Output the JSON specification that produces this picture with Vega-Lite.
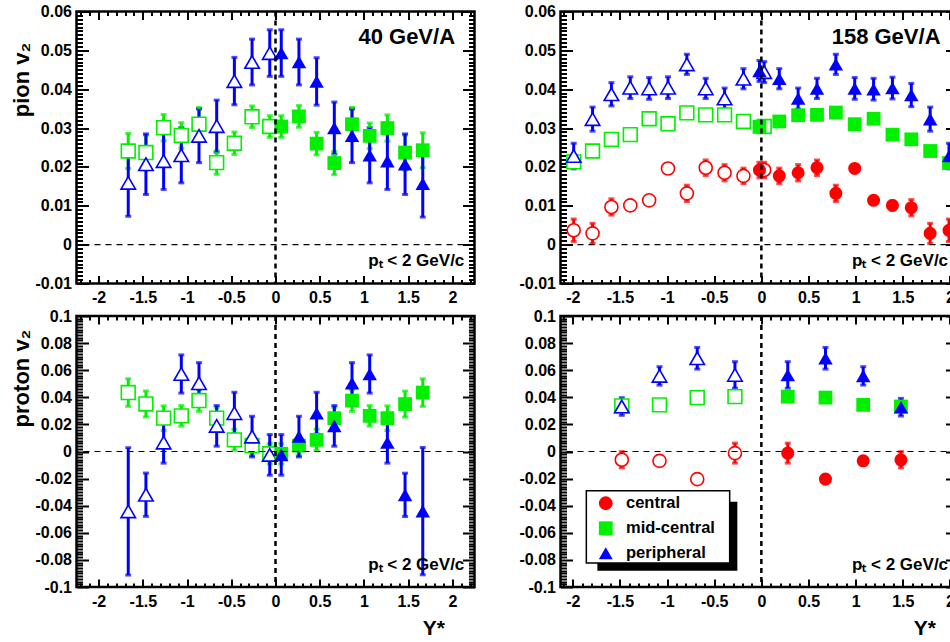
{
"$schema": "https://vega.github.io/schema/vega-lite/v6.json",
"background": "white",
"padding": {"left": 8.5, "top": 1.5, "right": 0, "bottom": 0},
"config": {
  "view": {"stroke": "black", "strokeWidth": 2.5},
  "font": "Liberation Sans",
  "axis": {"grid": false, "domain": false, "tickColor": "black", "tickWidth": 2, "labelFont": "Liberation Sans", "labelFontWeight": "bold", "labelFontSize": 16, "labelColor": "black", "titleFont": "Liberation Sans", "titleFontWeight": "bold", "titleColor": "black", "labelOverlap": false, "labelFlush": false, "labelBound": false}
},
"datasets": {
"pi40": [
{"x":-1.665,"v":0.0241,"e":0.0045,"c":"mid-central","s":"reflected"},
{"x":-1.465,"v":0.0237,"e":0.0045,"c":"mid-central","s":"reflected"},
{"x":-1.265,"v":0.0301,"e":0.0034,"c":"mid-central","s":"reflected"},
{"x":-1.065,"v":0.0281,"e":0.0033,"c":"mid-central","s":"reflected"},
{"x":-0.865,"v":0.0310,"e":0.0043,"c":"mid-central","s":"reflected"},
{"x":-0.665,"v":0.0211,"e":0.0030,"c":"mid-central","s":"reflected"},
{"x":-0.465,"v":0.0261,"e":0.0029,"c":"mid-central","s":"reflected"},
{"x":-0.265,"v":0.0329,"e":0.0028,"c":"mid-central","s":"reflected"},
{"x":-0.065,"v":0.0304,"e":0.0028,"c":"mid-central","s":"reflected"},
{"x":0.065,"v":0.0304,"e":0.0028,"c":"mid-central","s":"measured"},
{"x":0.265,"v":0.0330,"e":0.0028,"c":"mid-central","s":"measured"},
{"x":0.465,"v":0.0260,"e":0.0029,"c":"mid-central","s":"measured"},
{"x":0.665,"v":0.0210,"e":0.0030,"c":"mid-central","s":"measured"},
{"x":0.865,"v":0.0310,"e":0.0043,"c":"mid-central","s":"measured"},
{"x":1.065,"v":0.0280,"e":0.0033,"c":"mid-central","s":"measured"},
{"x":1.265,"v":0.0300,"e":0.0034,"c":"mid-central","s":"measured"},
{"x":1.465,"v":0.0237,"e":0.0045,"c":"mid-central","s":"measured"},
{"x":1.665,"v":0.0243,"e":0.0045,"c":"mid-central","s":"measured"},
{"x":-1.665,"v":0.0159,"e":0.0086,"c":"peripheral","s":"reflected"},
{"x":-1.465,"v":0.0207,"e":0.0078,"c":"peripheral","s":"reflected"},
{"x":-1.265,"v":0.0215,"e":0.0073,"c":"peripheral","s":"reflected"},
{"x":-1.065,"v":0.0230,"e":0.0071,"c":"peripheral","s":"reflected"},
{"x":-0.865,"v":0.0280,"e":0.0069,"c":"peripheral","s":"reflected"},
{"x":-0.665,"v":0.0305,"e":0.0067,"c":"peripheral","s":"reflected"},
{"x":-0.465,"v":0.0421,"e":0.0061,"c":"peripheral","s":"reflected"},
{"x":-0.265,"v":0.0470,"e":0.0059,"c":"peripheral","s":"reflected"},
{"x":-0.065,"v":0.0493,"e":0.0060,"c":"peripheral","s":"reflected"},
{"x":0.065,"v":0.0493,"e":0.0060,"c":"peripheral","s":"measured"},
{"x":0.265,"v":0.0470,"e":0.0059,"c":"peripheral","s":"measured"},
{"x":0.465,"v":0.0420,"e":0.0061,"c":"peripheral","s":"measured"},
{"x":0.665,"v":0.0300,"e":0.0067,"c":"peripheral","s":"measured"},
{"x":0.865,"v":0.0280,"e":0.0069,"c":"peripheral","s":"measured"},
{"x":1.065,"v":0.0230,"e":0.0071,"c":"peripheral","s":"measured"},
{"x":1.265,"v":0.0215,"e":0.0073,"c":"peripheral","s":"measured"},
{"x":1.465,"v":0.0207,"e":0.0078,"c":"peripheral","s":"measured"},
{"x":1.665,"v":0.0157,"e":0.0086,"c":"peripheral","s":"measured"}
],
"pi158": [
{"x":-1.99,"v":0.0037,"e":0.0029,"c":"central","s":"reflected"},
{"x":-1.79,"v":0.0029,"e":0.0026,"c":"central","s":"reflected"},
{"x":-1.59,"v":0.0097,"e":0.0021,"c":"central","s":"reflected"},
{"x":-1.39,"v":0.0101,"e":0.0012,"c":"central","s":"reflected"},
{"x":-1.19,"v":0.0114,"e":0.0010,"c":"central","s":"reflected"},
{"x":-0.99,"v":0.0196,"e":0.0010,"c":"central","s":"reflected"},
{"x":-0.79,"v":0.0132,"e":0.0021,"c":"central","s":"reflected"},
{"x":-0.59,"v":0.0198,"e":0.0020,"c":"central","s":"reflected"},
{"x":-0.39,"v":0.0185,"e":0.0021,"c":"central","s":"reflected"},
{"x":-0.19,"v":0.0177,"e":0.0020,"c":"central","s":"reflected"},
{"x":0.03,"v":0.0192,"e":0.0020,"c":"central","s":"reflected"},
{"x":-0.02,"v":0.0192,"e":0.0020,"c":"central","s":"measured"},
{"x":0.19,"v":0.0177,"e":0.0020,"c":"central","s":"measured"},
{"x":0.39,"v":0.0185,"e":0.0021,"c":"central","s":"measured"},
{"x":0.59,"v":0.0198,"e":0.0020,"c":"central","s":"measured"},
{"x":0.79,"v":0.0132,"e":0.0021,"c":"central","s":"measured"},
{"x":0.99,"v":0.0196,"e":0.0010,"c":"central","s":"measured"},
{"x":1.19,"v":0.0114,"e":0.0010,"c":"central","s":"measured"},
{"x":1.39,"v":0.0101,"e":0.0012,"c":"central","s":"measured"},
{"x":1.59,"v":0.0095,"e":0.0021,"c":"central","s":"measured"},
{"x":1.79,"v":0.0029,"e":0.0026,"c":"central","s":"measured"},
{"x":1.99,"v":0.0037,"e":0.0029,"c":"central","s":"measured"},
{"x":-1.99,"v":0.0213,"e":0.0010,"c":"mid-central","s":"reflected"},
{"x":-1.79,"v":0.0241,"e":0.0010,"c":"mid-central","s":"reflected"},
{"x":-1.59,"v":0.0271,"e":0.0010,"c":"mid-central","s":"reflected"},
{"x":-1.39,"v":0.0283,"e":0.0010,"c":"mid-central","s":"reflected"},
{"x":-1.19,"v":0.0324,"e":0.0010,"c":"mid-central","s":"reflected"},
{"x":-0.99,"v":0.0311,"e":0.0010,"c":"mid-central","s":"reflected"},
{"x":-0.79,"v":0.0339,"e":0.0010,"c":"mid-central","s":"reflected"},
{"x":-0.59,"v":0.0334,"e":0.0010,"c":"mid-central","s":"reflected"},
{"x":-0.39,"v":0.0334,"e":0.0010,"c":"mid-central","s":"reflected"},
{"x":-0.19,"v":0.0317,"e":0.0010,"c":"mid-central","s":"reflected"},
{"x":0.03,"v":0.0304,"e":0.0010,"c":"mid-central","s":"reflected"},
{"x":-0.02,"v":0.0303,"e":0.0010,"c":"mid-central","s":"measured"},
{"x":0.19,"v":0.0317,"e":0.0010,"c":"mid-central","s":"measured"},
{"x":0.39,"v":0.0333,"e":0.0010,"c":"mid-central","s":"measured"},
{"x":0.59,"v":0.0334,"e":0.0010,"c":"mid-central","s":"measured"},
{"x":0.79,"v":0.0340,"e":0.0010,"c":"mid-central","s":"measured"},
{"x":0.99,"v":0.0310,"e":0.0010,"c":"mid-central","s":"measured"},
{"x":1.19,"v":0.0324,"e":0.0010,"c":"mid-central","s":"measured"},
{"x":1.39,"v":0.0283,"e":0.0010,"c":"mid-central","s":"measured"},
{"x":1.59,"v":0.0271,"e":0.0010,"c":"mid-central","s":"measured"},
{"x":1.79,"v":0.0241,"e":0.0010,"c":"mid-central","s":"measured"},
{"x":1.99,"v":0.0210,"e":0.0010,"c":"mid-central","s":"measured"},
{"x":-1.99,"v":0.0228,"e":0.0033,"c":"peripheral","s":"reflected"},
{"x":-1.79,"v":0.0323,"e":0.0031,"c":"peripheral","s":"reflected"},
{"x":-1.59,"v":0.0387,"e":0.0030,"c":"peripheral","s":"reflected"},
{"x":-1.39,"v":0.0404,"e":0.0028,"c":"peripheral","s":"reflected"},
{"x":-1.19,"v":0.0402,"e":0.0028,"c":"peripheral","s":"reflected"},
{"x":-0.99,"v":0.0404,"e":0.0028,"c":"peripheral","s":"reflected"},
{"x":-0.79,"v":0.0464,"e":0.0026,"c":"peripheral","s":"reflected"},
{"x":-0.59,"v":0.0402,"e":0.0026,"c":"peripheral","s":"reflected"},
{"x":-0.39,"v":0.0376,"e":0.0027,"c":"peripheral","s":"reflected"},
{"x":-0.19,"v":0.0427,"e":0.0026,"c":"peripheral","s":"reflected"},
{"x":0.03,"v":0.0444,"e":0.0027,"c":"peripheral","s":"reflected"},
{"x":-0.02,"v":0.0447,"e":0.0027,"c":"peripheral","s":"measured"},
{"x":0.19,"v":0.0427,"e":0.0026,"c":"peripheral","s":"measured"},
{"x":0.39,"v":0.0376,"e":0.0027,"c":"peripheral","s":"measured"},
{"x":0.59,"v":0.0402,"e":0.0026,"c":"peripheral","s":"measured"},
{"x":0.79,"v":0.0464,"e":0.0026,"c":"peripheral","s":"measured"},
{"x":0.99,"v":0.0402,"e":0.0028,"c":"peripheral","s":"measured"},
{"x":1.19,"v":0.0400,"e":0.0028,"c":"peripheral","s":"measured"},
{"x":1.39,"v":0.0403,"e":0.0028,"c":"peripheral","s":"measured"},
{"x":1.59,"v":0.0385,"e":0.0030,"c":"peripheral","s":"measured"},
{"x":1.79,"v":0.0323,"e":0.0031,"c":"peripheral","s":"measured"},
{"x":1.99,"v":0.0228,"e":0.0033,"c":"peripheral","s":"measured"}
],
"p40": [
{"x":-1.665,"v":0.0435,"e":0.0102,"c":"mid-central","s":"reflected"},
{"x":-1.465,"v":0.0351,"e":0.0096,"c":"mid-central","s":"reflected"},
{"x":-1.265,"v":0.0246,"e":0.0091,"c":"mid-central","s":"reflected"},
{"x":-1.065,"v":0.0263,"e":0.0076,"c":"mid-central","s":"reflected"},
{"x":-0.865,"v":0.0376,"e":0.0080,"c":"mid-central","s":"reflected"},
{"x":-0.665,"v":0.0246,"e":0.0080,"c":"mid-central","s":"reflected"},
{"x":-0.465,"v":0.0086,"e":0.0078,"c":"mid-central","s":"reflected"},
{"x":-0.265,"v":0.0044,"e":0.0075,"c":"mid-central","s":"reflected"},
{"x":-0.065,"v":-0.0017,"e":0.0075,"c":"mid-central","s":"reflected"},
{"x":0.065,"v":-0.0017,"e":0.0075,"c":"mid-central","s":"measured"},
{"x":0.265,"v":0.0044,"e":0.0075,"c":"mid-central","s":"measured"},
{"x":0.465,"v":0.0086,"e":0.0078,"c":"mid-central","s":"measured"},
{"x":0.665,"v":0.0246,"e":0.0080,"c":"mid-central","s":"measured"},
{"x":0.865,"v":0.0376,"e":0.0080,"c":"mid-central","s":"measured"},
{"x":1.065,"v":0.0263,"e":0.0076,"c":"mid-central","s":"measured"},
{"x":1.265,"v":0.0246,"e":0.0091,"c":"mid-central","s":"measured"},
{"x":1.465,"v":0.0350,"e":0.0096,"c":"mid-central","s":"measured"},
{"x":1.665,"v":0.0435,"e":0.0102,"c":"mid-central","s":"measured"},
{"x":-1.665,"v":-0.0442,"e":0.0470,"c":"peripheral","s":"reflected"},
{"x":-1.465,"v":-0.0319,"e":0.0160,"c":"peripheral","s":"reflected"},
{"x":-1.265,"v":0.0066,"e":0.0152,"c":"peripheral","s":"reflected"},
{"x":-1.065,"v":0.0572,"e":0.0141,"c":"peripheral","s":"reflected"},
{"x":-0.865,"v":0.0504,"e":0.0152,"c":"peripheral","s":"reflected"},
{"x":-0.665,"v":0.0189,"e":0.0150,"c":"peripheral","s":"reflected"},
{"x":-0.465,"v":0.0283,"e":0.0154,"c":"peripheral","s":"reflected"},
{"x":-0.265,"v":0.0110,"e":0.0150,"c":"peripheral","s":"reflected"},
{"x":-0.065,"v":-0.0025,"e":0.0150,"c":"peripheral","s":"reflected"},
{"x":0.065,"v":-0.0025,"e":0.0150,"c":"peripheral","s":"measured"},
{"x":0.265,"v":0.0110,"e":0.0150,"c":"peripheral","s":"measured"},
{"x":0.465,"v":0.0283,"e":0.0154,"c":"peripheral","s":"measured"},
{"x":0.665,"v":0.0189,"e":0.0150,"c":"peripheral","s":"measured"},
{"x":0.865,"v":0.0504,"e":0.0152,"c":"peripheral","s":"measured"},
{"x":1.065,"v":0.0572,"e":0.0141,"c":"peripheral","s":"measured"},
{"x":1.265,"v":0.0066,"e":0.0152,"c":"peripheral","s":"measured"},
{"x":1.465,"v":-0.0320,"e":0.0160,"c":"peripheral","s":"measured"},
{"x":1.665,"v":-0.0440,"e":0.0470,"c":"peripheral","s":"measured"}
],
"p158": [
{"x":-1.48,"v":-0.0061,"e":0.0060,"c":"central","s":"reflected"},
{"x":-1.08,"v":-0.0069,"e":0.0020,"c":"central","s":"reflected"},
{"x":-0.68,"v":-0.0204,"e":0.0020,"c":"central","s":"reflected"},
{"x":-0.28,"v":-0.0012,"e":0.0074,"c":"central","s":"reflected"},
{"x":0.28,"v":-0.0012,"e":0.0074,"c":"central","s":"measured"},
{"x":0.68,"v":-0.0204,"e":0.0020,"c":"central","s":"measured"},
{"x":1.08,"v":-0.0069,"e":0.0020,"c":"central","s":"measured"},
{"x":1.48,"v":-0.0061,"e":0.0060,"c":"central","s":"measured"},
{"x":-1.48,"v":0.0337,"e":0.0020,"c":"mid-central","s":"reflected"},
{"x":-1.08,"v":0.0344,"e":0.0020,"c":"mid-central","s":"reflected"},
{"x":-0.68,"v":0.0398,"e":0.0020,"c":"mid-central","s":"reflected"},
{"x":-0.28,"v":0.0405,"e":0.0020,"c":"mid-central","s":"reflected"},
{"x":0.28,"v":0.0405,"e":0.0020,"c":"mid-central","s":"measured"},
{"x":0.68,"v":0.0398,"e":0.0020,"c":"mid-central","s":"measured"},
{"x":1.08,"v":0.0344,"e":0.0020,"c":"mid-central","s":"measured"},
{"x":1.48,"v":0.0332,"e":0.0020,"c":"mid-central","s":"measured"},
{"x":-1.48,"v":0.0332,"e":0.0065,"c":"peripheral","s":"reflected"},
{"x":-1.08,"v":0.0558,"e":0.0068,"c":"peripheral","s":"reflected"},
{"x":-0.68,"v":0.0688,"e":0.0080,"c":"peripheral","s":"reflected"},
{"x":-0.28,"v":0.0565,"e":0.0098,"c":"peripheral","s":"reflected"},
{"x":0.28,"v":0.0565,"e":0.0098,"c":"peripheral","s":"measured"},
{"x":0.68,"v":0.0688,"e":0.0080,"c":"peripheral","s":"measured"},
{"x":1.08,"v":0.0558,"e":0.0068,"c":"peripheral","s":"measured"},
{"x":1.48,"v":0.0327,"e":0.0065,"c":"peripheral","s":"measured"}
]
},
"columns": 2,
"spacing": {"column": 40, "row": -5.5},
"concat": [
{
 "width": 398, "height": 272,
 "layer": [
  {"data": {"name": "pi40"},
   "mark": {"type": "errorbar", "thickness": 3, "ticks": {"size": 6}},
   "encoding": {
    "x": {"field": "x", "type": "quantitative", "axis": null, "scale": {"domain": [-2.25, 2.25], "nice": false, "zero": false}},
    "y": {"field": "v", "type": "quantitative", "axis": null, "scale": {"domain": [-0.01, 0.06], "nice": false, "zero": false}},
    "yError": {"field": "e"},
    "color": {"field": "c", "type": "nominal", "legend": null, "scale": {"domain": ["central", "mid-central", "peripheral"], "range": ["#ff0000", "#00f000", "#0000ff"]}}}},
  {"data": {"name": "pi40"}, "transform": [{"filter": "datum.s == 'reflected'"}],
   "mark": {"type": "point", "filled": false, "fill": "white", "fillOpacity": 1, "opacity": 1, "strokeWidth": 1.6},
   "encoding": {
    "x": {"field": "x", "type": "quantitative", "axis": null, "scale": {"domain": [-2.25, 2.25], "nice": false, "zero": false}},
    "y": {"field": "v", "type": "quantitative", "axis": null, "scale": {"domain": [-0.01, 0.06], "nice": false, "zero": false}},
    "color": {"field": "c", "type": "nominal", "legend": null},
    "shape": {"field": "c", "type": "nominal", "legend": null, "scale": {"domain": ["central", "mid-central", "peripheral"], "range": ["circle", "square", "triangle-up"]}},
    "size": {"field": "c", "type": "nominal", "legend": null, "scale": {"domain": ["central", "mid-central", "peripheral"], "range": [170, 210, 280]}}}},
  {"data": {"name": "pi40"}, "transform": [{"filter": "datum.s == 'measured'"}],
   "mark": {"type": "point", "filled": true, "opacity": 1},
   "encoding": {
    "x": {"field": "x", "type": "quantitative", "scale": {"domain": [-2.25, 2.25], "nice": false, "zero": false},
      "axis": {"orient": "bottom", "title": null, "tickCount": 45, "labelPadding": 14,
        "tickSize": {"condition": {"test": "abs(datum.value*2-round(datum.value*2))<1e-6", "value": -8}, "value": -4},
        "labelExpr": "abs(datum.value*2-round(datum.value*2))<1e-6 ? ((datum.value < -1e-9 ? '-' : '') + format(abs(datum.value), '.1~f')) : ''"}},
    "y": {"field": "v", "type": "quantitative", "scale": {"domain": [-0.01, 0.06], "nice": false, "zero": false},
      "axis": {"orient": "left", "tickCount": 70, "labelPadding": 17,
        "tickSize": {"condition": {"test": "abs(datum.value*100-round(datum.value*100))<1e-6", "value": -12}, "value": -6},
        "labelExpr": "abs(datum.value*100-round(datum.value*100))<1e-6 ? (abs(datum.value)<1e-9 ? '0' : ((datum.value<0 ? '-' : '') + format(abs(datum.value), '.2f'))) : ''",
        "title": "pion v₂", "titleFontSize": 22, "titleAngle": -90, "titleX": -55, "titleY": 68, "titleAlign": "center", "titleBaseline": "middle"}},
    "color": {"field": "c", "type": "nominal", "legend": null},
    "shape": {"field": "c", "type": "nominal", "legend": null},
    "size": {"field": "c", "type": "nominal", "legend": null}}},
  {"data": {"values": [{}]},
   "mark": {"type": "rule", "color": "black", "strokeWidth": 2.5, "strokeDash": [5, 4]},
   "encoding": {"x": {"datum": 0, "type": "quantitative", "scale": {"domain": [-2.25, 2.25], "nice": false, "zero": false},
     "axis": {"orient": "top", "labels": false, "title": null, "tickCount": 45,
       "tickSize": {"condition": {"test": "abs(datum.value*2-round(datum.value*2))<1e-6", "value": -8}, "value": -4}}}}},
  {"data": {"values": [{}]},
   "mark": {"type": "rule", "color": "black", "strokeWidth": 1.2, "strokeDash": [6, 5]},
   "encoding": {"y": {"datum": 0, "type": "quantitative", "scale": {"domain": [-0.01, 0.06], "nice": false, "zero": false},
     "axis": {"orient": "right", "labels": false, "title": null, "tickCount": 70,
       "tickSize": {"condition": {"test": "abs(datum.value*100-round(datum.value*100))<1e-6", "value": -12}, "value": -6}}}}},
  {"data": {"values": [{}]},
   "mark": {"type": "text", "text": "40 GeV/A", "align": "right", "baseline": "alphabetic", "font": "Liberation Sans", "fontWeight": "bold", "fontSize": 22, "color": "black"},
   "encoding": {"x": {"datum": 2.03, "type": "quantitative", "axis": null}, "y": {"datum": 0.0516, "type": "quantitative", "axis": null}}},
  {"data": {"values": [{}]},
   "mark": {"type": "text", "text": "pₜ < 2 GeV/c", "align": "right", "baseline": "alphabetic", "font": "Liberation Sans", "fontWeight": "bold", "fontSize": 17, "color": "black"},
   "encoding": {"x": {"datum": 2.135, "type": "quantitative", "axis": null}, "y": {"datum": -0.0055, "type": "quantitative", "axis": null}}}
 ],
 "resolve": {"axis": {"x": "independent", "y": "independent"}}
},
{
 "width": 397, "height": 272,
 "layer": [
  {"data": {"name": "pi158"},
   "mark": {"type": "errorbar", "thickness": 3, "ticks": {"size": 6}},
   "encoding": {
    "x": {"field": "x", "type": "quantitative", "axis": null, "scale": {"domain": [-2.13, 2.08], "nice": false, "zero": false}},
    "y": {"field": "v", "type": "quantitative", "axis": null, "scale": {"domain": [-0.01, 0.06], "nice": false, "zero": false}},
    "yError": {"field": "e"},
    "color": {"field": "c", "type": "nominal", "legend": null, "scale": {"domain": ["central", "mid-central", "peripheral"], "range": ["#ff0000", "#00f000", "#0000ff"]}}}},
  {"data": {"name": "pi158"}, "transform": [{"filter": "datum.s == 'reflected'"}],
   "mark": {"type": "point", "filled": false, "fill": "white", "fillOpacity": 1, "opacity": 1, "strokeWidth": 1.6},
   "encoding": {
    "x": {"field": "x", "type": "quantitative", "axis": null, "scale": {"domain": [-2.13, 2.08], "nice": false, "zero": false}},
    "y": {"field": "v", "type": "quantitative", "axis": null, "scale": {"domain": [-0.01, 0.06], "nice": false, "zero": false}},
    "color": {"field": "c", "type": "nominal", "legend": null},
    "shape": {"field": "c", "type": "nominal", "legend": null, "scale": {"domain": ["central", "mid-central", "peripheral"], "range": ["circle", "square", "triangle-up"]}},
    "size": {"field": "c", "type": "nominal", "legend": null, "scale": {"domain": ["central", "mid-central", "peripheral"], "range": [170, 210, 280]}}}},
  {"data": {"name": "pi158"}, "transform": [{"filter": "datum.s == 'measured'"}],
   "mark": {"type": "point", "filled": true, "opacity": 1},
   "encoding": {
    "x": {"field": "x", "type": "quantitative", "scale": {"domain": [-2.13, 2.08], "nice": false, "zero": false},
      "axis": {"orient": "bottom", "title": null, "tickCount": 43, "labelPadding": 14,
        "tickSize": {"condition": {"test": "abs(datum.value*2-round(datum.value*2))<1e-6", "value": -8}, "value": -4},
        "labelExpr": "abs(datum.value*2-round(datum.value*2))<1e-6 ? ((datum.value < -1e-9 ? '-' : '') + format(abs(datum.value), '.1~f')) : ''"}},
    "y": {"field": "v", "type": "quantitative", "scale": {"domain": [-0.01, 0.06], "nice": false, "zero": false},
      "axis": {"orient": "left", "tickCount": 70, "labelPadding": 17, "title": null,
        "tickSize": {"condition": {"test": "abs(datum.value*100-round(datum.value*100))<1e-6", "value": -12}, "value": -6},
        "labelExpr": "abs(datum.value*100-round(datum.value*100))<1e-6 ? (abs(datum.value)<1e-9 ? '0' : ((datum.value<0 ? '-' : '') + format(abs(datum.value), '.2f'))) : ''"}},
    "color": {"field": "c", "type": "nominal", "legend": null},
    "shape": {"field": "c", "type": "nominal", "legend": null},
    "size": {"field": "c", "type": "nominal", "legend": null}}},
  {"data": {"values": [{}]},
   "mark": {"type": "rule", "color": "black", "strokeWidth": 2.5, "strokeDash": [5, 4]},
   "encoding": {"x": {"datum": 0, "type": "quantitative", "scale": {"domain": [-2.13, 2.08], "nice": false, "zero": false},
     "axis": {"orient": "top", "labels": false, "title": null, "tickCount": 43,
       "tickSize": {"condition": {"test": "abs(datum.value*2-round(datum.value*2))<1e-6", "value": -8}, "value": -4}}}}},
  {"data": {"values": [{}]},
   "mark": {"type": "rule", "color": "black", "strokeWidth": 1.2, "strokeDash": [6, 5]},
   "encoding": {"y": {"datum": 0, "type": "quantitative", "scale": {"domain": [-0.01, 0.06], "nice": false, "zero": false},
     "axis": {"orient": "right", "labels": false, "title": null, "tickCount": 70,
       "tickSize": {"condition": {"test": "abs(datum.value*100-round(datum.value*100))<1e-6", "value": -12}, "value": -6}}}}},
  {"data": {"values": [{}]},
   "mark": {"type": "text", "text": "158 GeV/A", "align": "right", "baseline": "alphabetic", "font": "Liberation Sans", "fontWeight": "bold", "fontSize": 22, "color": "black"},
   "encoding": {"x": {"datum": 1.9, "type": "quantitative", "axis": null}, "y": {"datum": 0.0516, "type": "quantitative", "axis": null}}},
  {"data": {"values": [{}]},
   "mark": {"type": "text", "text": "pₜ < 2 GeV/c", "align": "right", "baseline": "alphabetic", "font": "Liberation Sans", "fontWeight": "bold", "fontSize": 17, "color": "black"},
   "encoding": {"x": {"datum": 1.98, "type": "quantitative", "axis": null}, "y": {"datum": -0.0055, "type": "quantitative", "axis": null}}}
 ],
 "resolve": {"axis": {"x": "independent", "y": "independent"}}
},
{
 "width": 398, "height": 271,
 "layer": [
  {"data": {"name": "p40"},
   "mark": {"type": "errorbar", "thickness": 3, "ticks": {"size": 6}},
   "encoding": {
    "x": {"field": "x", "type": "quantitative", "axis": null, "scale": {"domain": [-2.25, 2.25], "nice": false, "zero": false}},
    "y": {"field": "v", "type": "quantitative", "axis": null, "scale": {"domain": [-0.1, 0.1], "nice": false, "zero": false}},
    "yError": {"field": "e"},
    "color": {"field": "c", "type": "nominal", "legend": null, "scale": {"domain": ["central", "mid-central", "peripheral"], "range": ["#ff0000", "#00f000", "#0000ff"]}}}},
  {"data": {"name": "p40"}, "transform": [{"filter": "datum.s == 'reflected'"}],
   "mark": {"type": "point", "filled": false, "fill": "white", "fillOpacity": 1, "opacity": 1, "strokeWidth": 1.6},
   "encoding": {
    "x": {"field": "x", "type": "quantitative", "axis": null, "scale": {"domain": [-2.25, 2.25], "nice": false, "zero": false}},
    "y": {"field": "v", "type": "quantitative", "axis": null, "scale": {"domain": [-0.1, 0.1], "nice": false, "zero": false}},
    "color": {"field": "c", "type": "nominal", "legend": null},
    "shape": {"field": "c", "type": "nominal", "legend": null, "scale": {"domain": ["central", "mid-central", "peripheral"], "range": ["circle", "square", "triangle-up"]}},
    "size": {"field": "c", "type": "nominal", "legend": null, "scale": {"domain": ["central", "mid-central", "peripheral"], "range": [170, 210, 280]}}}},
  {"data": {"name": "p40"}, "transform": [{"filter": "datum.s == 'measured'"}],
   "mark": {"type": "point", "filled": true, "opacity": 1},
   "encoding": {
    "x": {"field": "x", "type": "quantitative", "scale": {"domain": [-2.25, 2.25], "nice": false, "zero": false},
      "axis": {"orient": "bottom", "tickCount": 45, "labelPadding": 14,
        "tickSize": {"condition": {"test": "abs(datum.value*2-round(datum.value*2))<1e-6", "value": -8}, "value": -4},
        "labelExpr": "abs(datum.value*2-round(datum.value*2))<1e-6 ? ((datum.value < -1e-9 ? '-' : '') + format(abs(datum.value), '.1~f')) : ''",
        "title": "Y*", "titleFontSize": 21, "titleX": 368, "titleY": 41, "titleAlign": "right", "titleBaseline": "middle"}},
    "y": {"field": "v", "type": "quantitative", "scale": {"domain": [-0.1, 0.1], "nice": false, "zero": false},
      "axis": {"orient": "left", "tickCount": 80, "labelPadding": 17,
        "tickSize": {"condition": {"test": "abs(datum.value*50-round(datum.value*50))<1e-6", "value": -12}, "value": -6},
        "labelExpr": "abs(datum.value*50-round(datum.value*50))<1e-6 ? (abs(datum.value)<1e-9 ? '0' : ((datum.value<0 ? '-' : '') + format(abs(datum.value), '.2~f'))) : ''",
        "title": "proton v₂", "titleFontSize": 22, "titleAngle": -90, "titleX": -55, "titleY": 62, "titleAlign": "center", "titleBaseline": "middle"}},
    "color": {"field": "c", "type": "nominal", "legend": null},
    "shape": {"field": "c", "type": "nominal", "legend": null},
    "size": {"field": "c", "type": "nominal", "legend": null}}},
  {"data": {"values": [{}]},
   "mark": {"type": "rule", "color": "black", "strokeWidth": 2.5, "strokeDash": [5, 4]},
   "encoding": {"x": {"datum": 0, "type": "quantitative", "scale": {"domain": [-2.25, 2.25], "nice": false, "zero": false},
     "axis": {"orient": "top", "labels": false, "title": null, "tickCount": 45,
       "tickSize": {"condition": {"test": "abs(datum.value*2-round(datum.value*2))<1e-6", "value": -8}, "value": -4}}}}},
  {"data": {"values": [{}]},
   "mark": {"type": "rule", "color": "black", "strokeWidth": 1.2, "strokeDash": [6, 5]},
   "encoding": {"y": {"datum": 0, "type": "quantitative", "scale": {"domain": [-0.1, 0.1], "nice": false, "zero": false},
     "axis": {"orient": "right", "labels": false, "title": null, "tickCount": 80,
       "tickSize": {"condition": {"test": "abs(datum.value*50-round(datum.value*50))<1e-6", "value": -12}, "value": -6}}}}},
  {"data": {"values": [{}]},
   "mark": {"type": "text", "text": "pₜ < 2 GeV/c", "align": "right", "baseline": "alphabetic", "font": "Liberation Sans", "fontWeight": "bold", "fontSize": 17, "color": "black"},
   "encoding": {"x": {"datum": 2.135, "type": "quantitative", "axis": null}, "y": {"datum": -0.0877, "type": "quantitative", "axis": null}}}
 ],
 "resolve": {"axis": {"x": "independent", "y": "independent"}}
},
{
 "width": 397, "height": 271,
 "layer": [
  {"data": {"values": [{}]},
   "mark": {"type": "rect", "color": "black"},
   "encoding": {"x": {"datum": -1.739, "type": "quantitative", "axis": null, "scale": {"domain": [-2.13, 2.08], "nice": false, "zero": false}}, "x2": {"datum": -0.2545},
     "y": {"datum": -0.037, "type": "quantitative", "axis": null, "scale": {"domain": [-0.1, 0.1], "nice": false, "zero": false}}, "y2": {"datum": -0.088}}},
  {"data": {"values": [{}]},
   "mark": {"type": "rect", "fill": "white", "stroke": "black", "strokeWidth": 1.5},
   "encoding": {"x": {"datum": -1.856, "type": "quantitative", "axis": null}, "x2": {"datum": -0.336},
     "y": {"datum": -0.029, "type": "quantitative", "axis": null}, "y2": {"datum": -0.0823}}},
  {"data": {"name": "p158"},
   "mark": {"type": "errorbar", "thickness": 3, "ticks": {"size": 6}},
   "encoding": {
    "x": {"field": "x", "type": "quantitative", "axis": null, "scale": {"domain": [-2.13, 2.08], "nice": false, "zero": false}},
    "y": {"field": "v", "type": "quantitative", "axis": null, "scale": {"domain": [-0.1, 0.1], "nice": false, "zero": false}},
    "yError": {"field": "e"},
    "color": {"field": "c", "type": "nominal", "legend": null, "scale": {"domain": ["central", "mid-central", "peripheral"], "range": ["#ff0000", "#00f000", "#0000ff"]}}}},
  {"data": {"name": "p158"}, "transform": [{"filter": "datum.s == 'reflected'"}],
   "mark": {"type": "point", "filled": false, "fill": "white", "fillOpacity": 1, "opacity": 1, "strokeWidth": 1.6},
   "encoding": {
    "x": {"field": "x", "type": "quantitative", "axis": null, "scale": {"domain": [-2.13, 2.08], "nice": false, "zero": false}},
    "y": {"field": "v", "type": "quantitative", "axis": null, "scale": {"domain": [-0.1, 0.1], "nice": false, "zero": false}},
    "color": {"field": "c", "type": "nominal", "legend": null},
    "shape": {"field": "c", "type": "nominal", "legend": null, "scale": {"domain": ["central", "mid-central", "peripheral"], "range": ["circle", "square", "triangle-up"]}},
    "size": {"field": "c", "type": "nominal", "legend": null, "scale": {"domain": ["central", "mid-central", "peripheral"], "range": [170, 210, 280]}}}},
  {"data": {"name": "p158"}, "transform": [{"filter": "datum.s == 'measured'"}],
   "mark": {"type": "point", "filled": true, "opacity": 1},
   "encoding": {
    "x": {"field": "x", "type": "quantitative", "scale": {"domain": [-2.13, 2.08], "nice": false, "zero": false},
      "axis": {"orient": "bottom", "tickCount": 43, "labelPadding": 14,
        "tickSize": {"condition": {"test": "abs(datum.value*2-round(datum.value*2))<1e-6", "value": -8}, "value": -4},
        "labelExpr": "abs(datum.value*2-round(datum.value*2))<1e-6 ? ((datum.value < -1e-9 ? '-' : '') + format(abs(datum.value), '.1~f')) : ''",
        "title": "Y*", "titleFontSize": 21, "titleX": 375, "titleY": 41, "titleAlign": "right", "titleBaseline": "middle"}},
    "y": {"field": "v", "type": "quantitative", "scale": {"domain": [-0.1, 0.1], "nice": false, "zero": false},
      "axis": {"orient": "left", "tickCount": 80, "labelPadding": 17, "title": null,
        "tickSize": {"condition": {"test": "abs(datum.value*50-round(datum.value*50))<1e-6", "value": -12}, "value": -6},
        "labelExpr": "abs(datum.value*50-round(datum.value*50))<1e-6 ? (abs(datum.value)<1e-9 ? '0' : ((datum.value<0 ? '-' : '') + format(abs(datum.value), '.2~f'))) : ''"}},
    "color": {"field": "c", "type": "nominal", "legend": {"orient": "none", "legendX": 37, "legendY": 179, "title": null, "direction": "vertical", "labelFont": "Liberation Sans", "labelFontWeight": "bold", "labelFontSize": 16.5, "labelColor": "black", "symbolSize": 190, "rowPadding": 8, "labelOffset": 12, "padding": 0, "symbolStrokeWidth": 0}},
    "shape": {"field": "c", "type": "nominal", "legend": {"orient": "none", "legendX": 37, "legendY": 179, "title": null, "direction": "vertical", "labelFont": "Liberation Sans", "labelFontWeight": "bold", "labelFontSize": 16.5, "labelColor": "black", "symbolSize": 190, "rowPadding": 8, "labelOffset": 12, "padding": 0, "symbolStrokeWidth": 0}},
    "size": {"field": "c", "type": "nominal", "legend": null}}},
  {"data": {"values": [{}]},
   "mark": {"type": "rule", "color": "black", "strokeWidth": 2.5, "strokeDash": [5, 4]},
   "encoding": {"x": {"datum": 0, "type": "quantitative", "scale": {"domain": [-2.13, 2.08], "nice": false, "zero": false},
     "axis": {"orient": "top", "labels": false, "title": null, "tickCount": 43,
       "tickSize": {"condition": {"test": "abs(datum.value*2-round(datum.value*2))<1e-6", "value": -8}, "value": -4}}}}},
  {"data": {"values": [{}]},
   "mark": {"type": "rule", "color": "black", "strokeWidth": 1.2, "strokeDash": [6, 5]},
   "encoding": {"y": {"datum": 0, "type": "quantitative", "scale": {"domain": [-0.1, 0.1], "nice": false, "zero": false},
     "axis": {"orient": "right", "labels": false, "title": null, "tickCount": 80,
       "tickSize": {"condition": {"test": "abs(datum.value*50-round(datum.value*50))<1e-6", "value": -12}, "value": -6}}}}},
  {"data": {"values": [{}]},
   "mark": {"type": "text", "text": "pₜ < 2 GeV/c", "align": "right", "baseline": "alphabetic", "font": "Liberation Sans", "fontWeight": "bold", "fontSize": 17, "color": "black"},
   "encoding": {"x": {"datum": 1.98, "type": "quantitative", "axis": null}, "y": {"datum": -0.0877, "type": "quantitative", "axis": null}}}
 ],
 "resolve": {"axis": {"x": "independent", "y": "independent"}, "legend": {"color": "independent", "shape": "independent"}}
}
]
}
